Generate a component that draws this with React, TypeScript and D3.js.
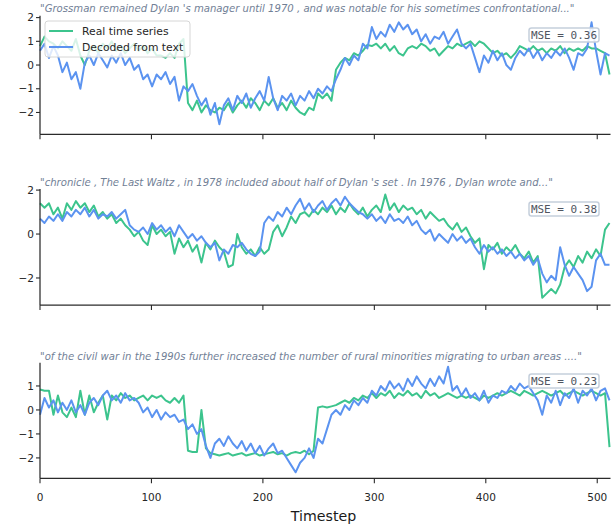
import React from "react";
import * as d3 from "d3";

const tMax = 511;
const xTicks = [0, 100, 200, 300, 400, 500];
const titles = [
  "\"Grossman remained Dylan 's manager until 1970 , and was notable for his sometimes confrontational...\"",
  "\"chronicle , The Last Waltz , in 1978 included about half of Dylan 's set . In 1976 , Dylan wrote and...\"",
  "\"of the civil war in the 1990s further increased the number of rural minorities migrating to urban areas ....\"",
];
const mseLabels = ["MSE = 0.36", "MSE = 0.38", "MSE = 0.23"];
const yTicks1 = [-2, -1, 0, 1, 2];
const yTicks2 = [-2, 0, 2];
const yTicks3 = [-2, -1, 0, 1];
const yDomain1 = [-2.92, 2.08];
const yDomain2 = [-3.23, 2.05];
const yDomain3 = [-2.85, 1.97];
const legendLabels = ["Real time series", "Decoded from text"];

const real1 = [
  0.8, 1.2, 1.0, 0.9, 0.7, 1.0, 0.8, 0.6,
  1.1, 0.4, 0.0, 0.6, 0.8, 0.5, 0.9, 0.7,
  1.0, 0.6, 0.8, 0.5, 0.7, 0.9, 0.6, 0.8,
  0.5, 0.7, 0.4, 0.4, 0.3, 0.5, 0.3, 0.9,
  1.1, -1.6, -1.9, -1.5, -2.0, -1.7, -1.9, -2.0,
  -1.8, -1.9, -1.6, -2.0, -1.7, -1.5, -1.8, -1.4,
  -1.6, -1.9, -1.5, -1.7, -1.4, -1.8, -1.6, -1.9,
  -1.5, -1.8, -2.0, -2.1, -1.8, -1.9, -1.2, -1.4,
  -1.2, -1.5, -0.2, 0.1, 0.3, 0.2, 0.5, 0.4,
  0.6, 0.85, 0.8, 0.9, 0.7, 0.9, 0.6, 0.8,
  0.5, 0.4, 0.7, 0.8, 0.7, 0.9, 0.8, 0.6,
  0.7, 0.4, 0.6, 0.8, 0.7, 0.9, 0.8, 0.9,
  1.0, 0.8, 1.0, 0.9, 0.7, 0.5, 0.6, 0.4,
  0.5, 0.3, 0.5, 0.8, 0.7, 0.6, 0.8, 0.6,
  0.7, 0.5, 0.7, 0.6, 0.8, 0.5, 0.7, 0.6,
  0.7, 0.6, 0.8, 0.7, 0.7, 0.6, 0.5, -0.4,
];
const decoded1 = [
  0.6, 0.9, 0.3, 0.8, 0.4, -0.3, 0.1, -0.6,
  -0.3, -1.0, 0.1, 0.4, 0.0, 0.5, 0.2, -0.1,
  0.4, 0.1, 0.5, 0.0, 0.3, -0.2, 0.0, -0.6,
  -0.4, -0.9, -0.4, -0.6, -0.3, -0.8, -0.5, -1.5,
  -0.9, -1.1, -0.8, -1.3, -1.7, -1.4, -2.1, -1.6,
  -2.5, -1.7, -1.4, -1.9, -1.3, -1.6, -1.2, -1.8,
  -1.4, -1.1, -1.5, -0.5, -1.4, -1.9, -1.3, -1.5,
  -1.2, -1.7, -1.3, -1.5, -1.1, -1.4, -1.0, -1.2,
  -0.9, -1.1, -0.6, -0.2, 0.3, 0.0, 0.4, 0.2,
  0.9, 0.7, 1.6, 1.1, 1.4, 1.2, 1.7, 1.4,
  1.8, 1.5, 1.7, 1.3, 1.5, 1.0, 1.3, 0.9,
  1.2, 1.1, 1.4, 0.9, 1.2, 1.5, 0.9, 0.7,
  0.9, 0.3, -0.3, 0.4, 0.1, 0.6, 0.2, 0.5,
  0.0, -0.2, 0.3, 0.6, 0.4, 0.7, 0.3, 0.6,
  0.2, 0.5, 0.3, 0.6, 0.4, 0.7, 0.3, -0.2,
  0.5, 0.4, 0.7, 1.8, 0.6, -0.4, 0.5, 0.4,
];
const real2 = [
  1.4, 1.2, 1.4, 0.9, 1.2, 0.7, 1.4, 1.1,
  1.5, 1.2, 1.4, 1.0, 1.3, 0.8, 1.0, 0.7,
  0.9, 0.5, 0.7, 0.4, 0.2, -0.1, 0.1, -0.3,
  -0.5, 0.4, 0.0, 0.2, -0.1, 0.1, -0.9, -0.2,
  -0.6, -0.3, -0.8, -0.5, -1.3, -0.4, -0.7, -0.3,
  -0.6, -0.8, -1.5, -1.4, 0.0, -0.6, -0.9, -0.7,
  -1.0, -0.6, -0.9, -0.7, 0.1, 0.4, -0.1, 0.3,
  0.8, 0.5, 0.9, 1.0, 0.8, 1.1, 0.9, 1.2,
  1.0, 1.3, 0.9, 1.2, 1.0, 1.4, 1.1, 0.9,
  1.2, 0.8, 1.1, 1.3, 1.0, 1.8, 1.1, 1.4,
  1.0, 1.3, 1.1, 1.2, 0.9, 1.1, 0.7, 1.0,
  0.8, 0.6, 0.7, 0.4, 0.2, 0.5, 0.1, 0.3,
  -0.1, -0.4, -0.2, -1.6, -0.5, -0.7, -0.4, -0.9,
  -0.6, -0.8, -0.5, -0.9, -1.1, -0.8, -1.3, -1.0,
  -2.9, -2.7, -2.5, -2.7, -2.3, -1.5, -1.2, -1.5,
  -1.0, -1.3, -0.8, -1.1, -0.7, -1.0, 0.2, 0.5,
];
const decoded2 = [
  0.7, 0.5, 0.8, 0.6, 0.9, 0.6, 1.0, 0.8,
  1.1, 0.9, 1.2, 0.8, 1.1, 0.7, 0.9, 0.8,
  1.0, 0.7, 0.9, 1.1, 0.4, 0.2, 0.1, 0.3,
  0.0, 0.5, 0.2, 0.4, 0.1, 0.3, -0.1, 0.4,
  0.1, -0.2, 0.0, -0.3, -0.1, -0.4, -0.6, -0.4,
  -1.2, -0.7, -0.9, -0.5, -0.6, -0.4, -0.7, -0.9,
  -1.0, -0.8, 0.5, 0.8, 0.6, 1.0, 0.8, 1.2,
  0.9, 1.3, 1.6, 1.1, 1.4, 1.0, 1.3, 1.5,
  1.1, 1.4, 1.6, 1.3, 1.7, 1.4, 1.2, 1.0,
  0.9, 0.7, 0.9, 0.6, 0.8, 0.5, 0.9, 0.6,
  0.7, 0.5, 0.8, 0.4, 0.6, 0.2, 0.0, 0.2,
  -0.3, 0.0, -0.2, -0.4, 0.0, -0.3, -0.1, -0.4,
  -0.2, -0.6, -0.9, -0.5, -0.8, -0.6, -0.9, -0.7,
  -1.0, -0.8, -1.1, -0.9, -1.2, -1.0, -1.4, -1.1,
  -1.8, -2.2, -1.9, -2.1, -0.6, -1.4, -1.9, -1.5,
  -1.8, -2.1, -2.6, -2.4, -1.2, -0.9, -1.4, -1.4,
];
const real3 = [
  0.85, 0.8, 0.8, -0.2, 0.6, -0.1, -0.3, 0.1,
  -0.3, 0.8, -0.2, 0.6, -0.1, 0.3, 0.6, -0.4,
  0.6, 0.4, 0.7, 0.5, 0.6, 0.4, 0.5, 0.6,
  0.4, 0.6, 0.5, 0.6, 0.4, 0.3, 0.5, 0.3,
  0.6, -1.7, -1.75, -1.75, 0.0, -1.6, -1.8, -1.85,
  -1.9, -1.85, -1.8, -1.9, -1.85, -1.8, -1.9, -1.85,
  -1.8, -1.9, -1.85, -1.8, -1.75, -1.85, -1.8, -1.9,
  -1.8, -1.75, -1.8, -1.7, -1.85, -1.7, 0.1, 0.15,
  0.1, 0.15, 0.2, 0.3, 0.4, 0.3, 0.5, 0.4,
  0.6, 0.5, 0.7, 0.5, 0.7, 0.6, 0.8, 0.5,
  0.7, 0.6, 0.8, 0.6, 0.7, 0.5, 0.8, 0.6,
  0.7, 0.5, 0.6, 0.7, 0.6, 0.5, 0.6, 0.5,
  0.6, 0.5, 0.4, 0.6, 0.5, 0.6, 0.7, 0.6,
  0.7, 0.8, 0.7, 0.6, 0.8, 0.7, 0.6, 0.7,
  0.8, 0.7, 0.6, 0.7, 0.8, 0.6, 0.7, 0.8,
  0.7, 0.6, 0.7, 0.8, 0.7, 0.6, 0.7, -1.55,
];
const decoded3 = [
  -0.2, 0.5, 0.1, 0.4, -0.1, 0.3, 0.0, 0.4,
  -0.1, 0.2, -0.2, 0.3, 0.5, 0.2, 0.6, 0.8,
  0.4, 0.6, 0.3, 0.7, 0.4, 0.5, 0.3, -0.1,
  0.1, -0.3, 0.0, -0.4, -0.1, -0.3, -0.2, -0.5,
  -0.4, -0.8, -0.6, -1.0, -0.8, -1.5, -2.0, -1.4,
  -1.2, -1.5, -1.1, -1.4, -1.6, -1.3, -1.7, -1.4,
  -1.8, -1.5, -1.9, -1.6, -1.4, -1.8, -1.7, -2.0,
  -2.3, -2.6, -2.2, -2.0, -1.6, -2.0, -1.2, -1.4,
  -0.8, -0.2, 0.0, -0.2, 0.2, 0.0, 0.4, 0.2,
  0.5, 0.3, 0.8, 0.6, 1.0, 0.8, 1.2, 0.9,
  1.1, 0.8, 1.3, 1.0, 1.4, 1.1, 0.9, 1.3,
  1.0, 1.4, 1.1, 1.8, 0.8, 1.0, 0.6, 0.9,
  0.5, 0.7, 0.4, 0.8, 0.3, 0.6, 0.5, 0.8,
  0.7, 1.0, 0.8, 1.1, 0.9, 1.0, 0.7, 0.4,
  -0.2, 0.6, 0.3, 0.8, 0.2, 0.7, 0.5, 0.9,
  0.3, 0.8, 0.6, 0.9, 0.4, 0.8, 0.9, 0.4,
];

const GREEN = "#3cc48d";
const BLUE = "#5b93f0";
const AXIS = "#2b2b2b";
const W = 611;
const H = 525;
const LEFT = 40;
const RIGHT = 609.5;

const panels = [
  { title: titles[0], mse: mseLabels[0], real: real1, decoded: decoded1, ticks: yTicks1, domain: yDomain1, top: 15.7, bottom: 134.3, titleY: 11.5, mseY: 35 },
  { title: titles[1], mse: mseLabels[1], real: real2, decoded: decoded2, ticks: yTicks2, domain: yDomain2, top: 189, bottom: 305, titleY: 186, mseY: 209 },
  { title: titles[2], mse: mseLabels[2], real: real3, decoded: decoded3, ticks: yTicks3, domain: yDomain3, top: 362.7, bottom: 478.3, titleY: 359.5, mseY: 381 },
];

const x = d3.scaleLinear().domain([0, tMax]).range([LEFT, RIGHT]);
const sans = "'DejaVu Sans', sans-serif";

function Panel({ p, idx }: { p: any; idx: number }) {
  const y = d3.scaleLinear().domain(p.domain).range([p.bottom, p.top]);
  const n = p.real.length;
  const line = d3
    .line<number>()
    .x((_, i) => x((i * tMax) / (n - 1)))
    .y((v) => y(v));
  const isLast = idx === 2;
  return (
    <g>
      <text x={LEFT} y={p.titleY} fontFamily={sans} fontStyle="italic" fontSize={10.1} fill="#718096">
        {p.title}
      </text>
      <path d={line(p.real) || ""} fill="none" stroke={GREEN} strokeWidth={2} strokeLinejoin="round" />
      <path d={line(p.decoded) || ""} fill="none" stroke={BLUE} strokeWidth={2} strokeLinejoin="round" />
      <line x1={LEFT} x2={LEFT} y1={p.top} y2={p.bottom} stroke={AXIS} strokeWidth={1.25} />
      {p.ticks.map((t: number) => (
        <g key={t}>
          <line x1={LEFT - 4} x2={LEFT} y1={y(t)} y2={y(t)} stroke={AXIS} strokeWidth={1.1} />
          <text x={LEFT - 6} y={y(t)} dy="0.35em" textAnchor="end" fontFamily={sans} fontSize={10.5} fill="#262626">
            {t < 0 ? "\u2212" + Math.abs(t) : String(t)}
          </text>
        </g>
      ))}
      <line x1={LEFT} x2={RIGHT + 1} y1={p.bottom} y2={p.bottom} stroke={AXIS} strokeWidth={1.25} />
      {xTicks.map((t) => (
        <g key={t}>
          <line x1={x(t)} x2={x(t)} y1={p.bottom} y2={p.bottom + 5} stroke={AXIS} strokeWidth={1.1} />
          {isLast && (
            <text x={x(t)} y={p.bottom + 22.5} textAnchor="middle" fontFamily={sans} fontSize={10.5} fill="#262626">
              {t}
            </text>
          )}
        </g>
      ))}
      <rect x={529} y={p.mseY - 7} width={70} height={14} rx={2.5} fill="white" fillOpacity={0.85} stroke="#c5cfdc" strokeWidth={1.5} />
      <text x={564} y={p.mseY} dy="0.35em" textAnchor="middle" fontFamily="'DejaVu Sans Mono', monospace" fontSize={11} fill="#505560">
        {p.mse}
      </text>
    </g>
  );
}

export default function App() {
  return (
    <div style={{ position: "absolute", left: 0, top: 0 }}>
      <svg width={W} height={H} style={{ display: "block", background: "white" }}>
        {panels.map((p, i) => (
          <Panel key={i} p={p} idx={i} />
        ))}
        <g>
          <rect x={45} y={21} width={145} height={36} rx={3} fill="white" fillOpacity={0.8} stroke="#d6d6d6" strokeWidth={1} />
          <line x1={49} x2={73} y1={31} y2={31} stroke={GREEN} strokeWidth={2} />
          <line x1={49} x2={73} y1={47} y2={47} stroke={BLUE} strokeWidth={2} />
          <text x={82} y={31} dy="0.35em" fontFamily={sans} fontSize={10.8} fill="#262626">{legendLabels[0]}</text>
          <text x={82} y={47} dy="0.35em" fontFamily={sans} fontSize={10.8} fill="#262626">{legendLabels[1]}</text>
        </g>
        <text x={323.5} y={521} textAnchor="middle" fontFamily={sans} fontSize={14.2} fill="#1a1a1a">
          Timestep
        </text>
      </svg>
    </div>
  );
}
